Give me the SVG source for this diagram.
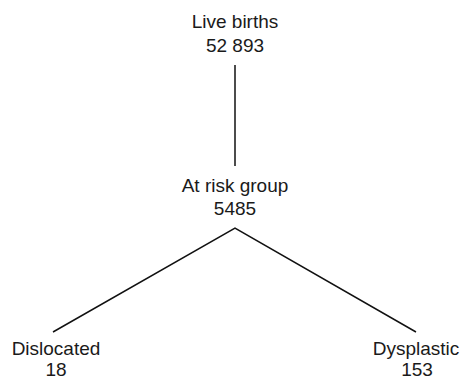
<svg xmlns="http://www.w3.org/2000/svg" width="464" height="381" viewBox="0 0 464 381">
<style>
text{font-family:"Liberation Sans",Arial,sans-serif;font-size:19px;fill:#1a1a1a;text-anchor:middle}
.c{stroke:#111;stroke-width:1.5;fill:none}
</style>
<rect width="464" height="381" fill="#fff"/>
<g id="connectors">
<line class="c" x1="235" y1="65" x2="235" y2="166"/>
<polyline class="c" points="53,332 235,228 416,332"/>
</g>
<g id="live-births"><text x="235" y="28">Live births</text><text x="235" y="52">52 893</text></g>
<g id="at-risk"><text x="235" y="192">At risk group</text><text x="235" y="215">5485</text></g>
<g id="dislocated"><text x="56" y="355">Dislocated</text><text x="56" y="376">18</text></g>
<g id="dysplastic"><text x="416" y="355">Dysplastic</text><text x="417" y="376">153</text></g>
</svg>
